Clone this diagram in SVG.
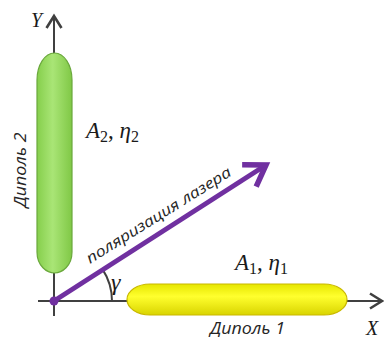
<svg xmlns="http://www.w3.org/2000/svg" width="384" height="340" viewBox="0 0 384 340">
<style>
.ax{stroke:#404040;stroke-width:2;fill:none}
.lbl{font-family:"Open Sans","DejaVu Sans",sans-serif;font-style:italic;fill:#262626}
.math{font-family:"Liberation Serif","DejaVu Serif",serif;fill:#1a1a1a}
</style>
<defs>
<linearGradient id="gGreen" x1="0" y1="0" x2="1" y2="0">
<stop offset="0" stop-color="#86cf4c"/>
<stop offset="0.45" stop-color="#a9e576"/>
<stop offset="1" stop-color="#80c846"/>
</linearGradient>
<linearGradient id="gYellow" x1="0" y1="0" x2="0" y2="1">
<stop offset="0" stop-color="#e6e600"/>
<stop offset="0.4" stop-color="#ffff2e"/>
<stop offset="1" stop-color="#d9d400"/>
</linearGradient>
<marker id="axArrow" markerUnits="userSpaceOnUse" markerWidth="18" markerHeight="20" viewBox="0 0 18 20" refX="15" refY="10" orient="auto">
<path d="M3,2.5 L15,10 L3,17.5" fill="none" stroke="#404040" stroke-width="2.6"/>
</marker>
<marker id="pArrow" markerUnits="userSpaceOnUse" markerWidth="34" markerHeight="34" viewBox="0 0 34 34" refX="28" refY="17" orient="auto">
<path d="M8,4 L28,17 L8,30" fill="none" stroke="#7030a0" stroke-width="5.5"/>
</marker>
</defs>
<g id="connectors">
<line id="axisY" class="ax" x1="54" y1="316" x2="54" y2="16" marker-end="url(#axArrow)"/>
<line id="axisX" class="ax" x1="38" y1="301" x2="382" y2="301" marker-end="url(#axArrow)"/>
<path id="angleArc" class="ax" d="M112,301 A58,58 0 0 0 102.6,269.4"/>
<line id="polarization" x1="54" y1="301" x2="266" y2="165" stroke="#7030a0" stroke-width="5" marker-end="url(#pArrow)"/>
<circle cx="54" cy="301" r="4.5" fill="#7030a0"/>
</g>
<g id="dipole2">
<path d="M37,80 A17.5,27 0 0 1 72,80 L72,252 C72,266 62,273 54.5,273 C47,273 37,266 37,252 Z" fill="url(#gGreen)" stroke="#6aa83c" stroke-width="1.2"/>
<text class="lbl" transform="translate(26,170) rotate(-90)" text-anchor="middle" font-size="16" textLength="75" lengthAdjust="spacingAndGlyphs">Диполь 2</text>
<text class="math" x="86" y="138" font-size="23"><tspan font-style="italic">A</tspan><tspan font-size="16" dy="4">2</tspan><tspan dy="-4">, </tspan><tspan font-style="italic">η</tspan><tspan font-size="16" dy="4">2</tspan></text>
</g>
<g id="dipole1">
<path d="M150,284 L324,284 A23,15.5 0 0 1 324,315 L150,315 A23,15.5 0 0 1 150,284 Z" fill="url(#gYellow)" stroke="#c9b800" stroke-width="1.2"/>
<text class="lbl" x="210" y="334" font-size="16" textLength="75" lengthAdjust="spacingAndGlyphs">Диполь 1</text>
<text class="math" x="235" y="270" font-size="23"><tspan font-style="italic">A</tspan><tspan font-size="16" dy="4">1</tspan><tspan dy="-4">, </tspan><tspan font-style="italic">η</tspan><tspan font-size="16" dy="4">1</tspan></text>
</g>
<g id="labels">
<text class="math" x="31" y="27" font-size="20" font-style="italic">Y</text>
<text class="math" x="366" y="335" font-size="20" font-style="italic">X</text>
<text class="math" x="111" y="290" font-size="24" font-style="italic">γ</text>
<text class="lbl" transform="translate(90,264) rotate(-32)" font-size="15" textLength="168" lengthAdjust="spacingAndGlyphs">поляризация лазера</text>
</g>
</svg>
